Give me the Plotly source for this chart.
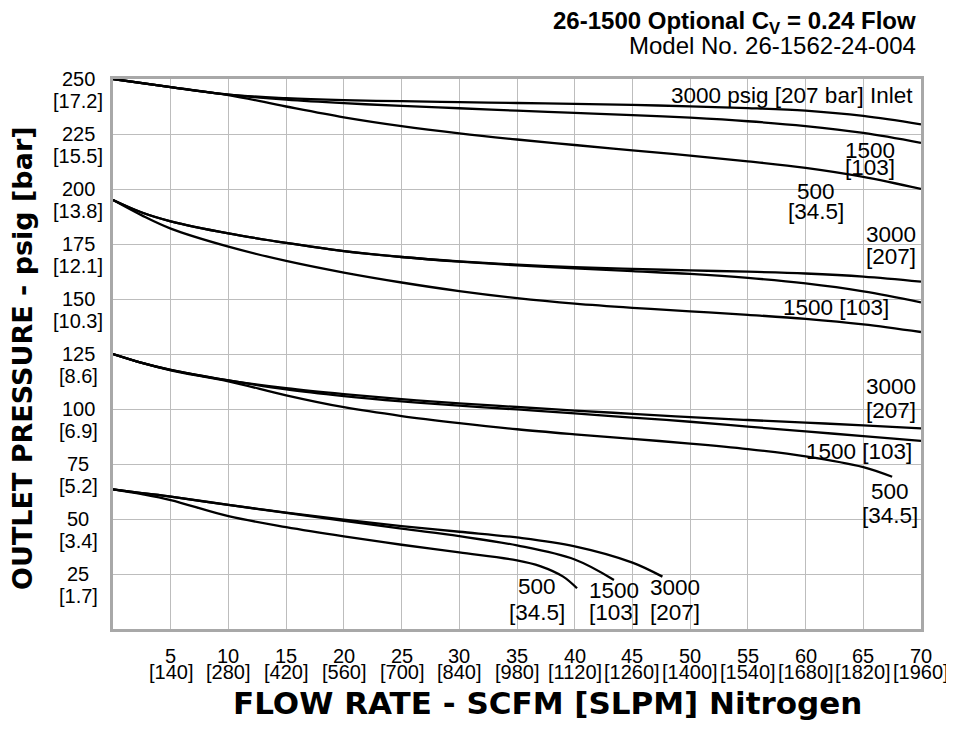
import plotly.graph_objects as go

# ---------------- data ----------------
# 250 psig set point
g1_flow = [0, 5, 10, 15, 20, 25, 30, 35, 40, 45, 50, 55, 60, 65, 70]
g1_3000 = [250, 246.3, 242.9, 241.3, 240.4, 239.9, 239.5, 239.1, 238.7, 238.2, 237.6, 236.8, 235.6, 233.2, 229.4]
g1_1500 = [250, 246.3, 242.9, 240.6, 239.0, 237.8, 236.7, 235.6, 234.6, 233.6, 232.4, 230.8, 228.6, 225.5, 221.0]
g1_500 = [250, 246.3, 242.7, 237.5, 232.6, 228.6, 225.3, 222.5, 220.0, 217.6, 215.2, 212.6, 209.6, 205.5, 200.0]

# 195 psig set point
g2_flow = [0, 2.5, 5, 10, 15, 20, 25, 30, 35, 40, 45, 50, 55, 60, 65, 70]
g2_3000 = [195, 189.3, 185.3, 179.8, 175.5, 171.8, 169.1, 167.1, 165.6, 164.5, 163.7, 163.0, 162.4, 161.6, 160.2, 157.9]
g2_1500 = [195, 189.3, 185.3, 179.8, 175.5, 171.8, 169.1, 167.0, 165.3, 163.9, 162.7, 161.4, 159.6, 157.1, 153.5, 148.5]
g2_500 = [195, 188.0, 182.0, 173.8, 167.3, 162.0, 157.5, 153.6, 150.4, 147.9, 146.0, 144.4, 142.8, 141.0, 138.5, 135.0]

# 125 psig set point
g3_flow = [0, 2.5, 5, 10, 15, 20, 25, 30, 35, 40, 45, 50, 55, 60, 65, 70]
g3_3000 = [125, 121.0, 117.8, 113.0, 109.5, 106.8, 104.5, 102.6, 100.9, 99.3, 97.8, 96.3, 95.0, 93.8, 92.6, 91.2]
g3_1500 = [125, 121.0, 117.8, 113.0, 108.9, 105.9, 103.5, 101.5, 99.8, 98.0, 96.1, 94.2, 92.0, 89.8, 87.7, 85.5]
g3_500_flow = [0, 2.5, 5, 10, 15, 20, 25, 30, 35, 40, 45, 50, 55, 60, 65, 67.5]
g3_500 = [125, 121.0, 117.6, 112.6, 106.2, 100.8, 96.8, 93.6, 90.8, 88.5, 86.4, 84.3, 81.8, 78.5, 73.6, 69.2]

# 63.5 psig set point
g4_3000_flow = [0, 2.5, 5, 10, 15, 20, 25, 30, 35, 40, 45, 47.6]
g4_3000 = [63.5, 61.8, 60.2, 56.4, 52.9, 49.7, 46.8, 44.2, 41.6, 37.6, 30.2, 23.8]
g4_1500_flow = [0, 2.5, 5, 10, 15, 20, 25, 30, 35, 40, 43.4]
g4_1500 = [63.5, 61.8, 60.2, 56.4, 52.8, 49.2, 45.6, 42.2, 38.0, 31.6, 22.3]
g4_500_flow = [0, 2.5, 5, 10, 15, 20, 25, 30, 35, 37, 39, 40.2]
g4_500 = [63.5, 61.3, 58.6, 51.3, 46.3, 42.1, 38.3, 34.8, 31.2, 28.6, 23.8, 18.5]

# ticks
x_tick_vals = [5, 10, 15, 20, 25, 30, 35, 40, 45, 50, 55, 60, 65, 70]
x_tick_slpm = ["[140]", "[280]", "[420]", "[560]", "[700]", "[840]", "[980]", "[1120]",
               "[1260]", "[1400]", "[1540]", "[1680]", "[1820]", "[1960]"]
y_tick_vals = [250, 225, 200, 175, 150, 125, 100, 75, 50, 25]
y_tick_bar = ["[17.2]", "[15.5]", "[13.8]", "[12.1]", "[10.3]", "[8.6]", "[6.9]", "[5.2]", "[3.4]", "[1.7]"]

# curve labels: (text, x data, y data, xanchor)
curve_labels = [
    ("3000 psig [207 bar] Inlet", 69.5, 242.7, "right"),
    ("1500", 65.6, 217.7, "center"), ("[103]", 65.6, 209.8, "center"),
    ("500", 60.9, 198.9, "center"), ("[34.5]", 60.9, 190.0, "center"),
    ("3000", 67.4, 179.1, "center"), ("[207]", 67.4, 169.1, "center"),
    ("1500 [103]", 62.6, 146.3, "center"),
    ("3000", 67.4, 110.2, "center"), ("[207]", 67.4, 99.5, "center"),
    ("1500 [103]", 64.6, 80.9, "center"),
    ("500", 67.3, 62.5, "center"), ("[34.5]", 67.3, 51.8, "center"),
    ("500", 36.7, 19.3, "center"), ("[34.5]", 36.7, 7.7, "center"),
    ("1500", 43.4, 17.5, "center"), ("[103]", 43.4, 7.3, "center"),
    ("3000", 48.7, 18.9, "center"), ("[207]", 48.7, 7.5, "center"),
]

FONT = "Liberation Sans, Arial, sans-serif"
HEAVY = "DejaVu Sans, Arial Black, sans-serif"

fig = go.Figure()
line = dict(color="black", width=2.3, shape="spline", smoothing=1.0)
series = [
    (g1_flow, g1_3000), (g1_flow, g1_1500), (g1_flow, g1_500),
    (g2_flow, g2_3000), (g2_flow, g2_1500), (g2_flow, g2_500),
    (g3_flow, g3_3000), (g3_flow, g3_1500), (g3_500_flow, g3_500),
    (g4_3000_flow, g4_3000), (g4_1500_flow, g4_1500), (g4_500_flow, g4_500),
]
for xs, ys in series:
    fig.add_trace(go.Scatter(x=xs, y=ys, mode="lines", line=line, showlegend=False, hoverinfo="skip"))

ann = []
for t, x, y, xa in curve_labels:
    ann.append(dict(text=t, x=x, y=y, xref="x", yref="y", xanchor=xa, yanchor="middle",
                    showarrow=False, font=dict(family=FONT, size=22.5, color="black")))

tick_font = dict(family=FONT, size=20, color="black")
# y tick labels (two lines)
for v, b in zip(y_tick_vals, y_tick_bar):
    ann.append(dict(text=str(v), x=-0.043, y=v, xref="paper", yref="y", xanchor="center",
                    yanchor="middle", showarrow=False, font=tick_font))
    ann.append(dict(text=b, x=-0.043, y=v, xref="paper", yref="y", xanchor="center",
                    yanchor="middle", yshift=-22, showarrow=False, font=tick_font))
# x tick labels
for v, b in zip(x_tick_vals, x_tick_slpm):
    ann.append(dict(text=str(v), x=v, y=0, xref="x", yref="y", xanchor="center",
                    yanchor="middle", yshift=-27, showarrow=False, font=tick_font))
    ann.append(dict(text=b, x=v, y=0, xref="x", yref="y", xanchor="center",
                    yanchor="middle", yshift=-43, showarrow=False, font=tick_font))
ann.append(dict(text="0", x=-1.98, y=0, xref="x", yref="y", xanchor="center", yanchor="middle",
                yshift=-27, showarrow=False, font=tick_font))

# axis titles
ann.append(dict(text="<b>FLOW RATE - SCFM [SLPM] Nitrogen</b>", x=(547 - 113) / 808, y=-(703 - 629) / 550,
                xref="paper", yref="paper", xanchor="center", yanchor="middle", showarrow=False,
                font=dict(family=HEAVY, size=31, color="black")))
ann.append(dict(text="<b>OUTLET PRESSURE - psig [bar]</b>", x=(22 - 113) / 808, y=(629 - 358) / 550,
                xref="paper", yref="paper", xanchor="center", yanchor="middle", textangle=-90,
                showarrow=False, font=dict(family=HEAVY, size=27, color="black")))
# titles
ann.append(dict(text="<b>26-1500 Optional C<sub>V</sub> = 0.24 Flow</b>", x=(918 - 113) / 808,
                y=(629 - 22) / 550, xref="paper", yref="paper", xanchor="right", yanchor="middle",
                showarrow=False, font=dict(family=FONT, size=24, color="black")))
ann.append(dict(text="Model No. 26-1562-24-004", x=(918 - 113) / 808, y=(629 - 46) / 550,
                xref="paper", yref="paper", xanchor="right", yanchor="middle",
                showarrow=False, font=dict(family=FONT, size=24, color="black")))

fig.update_layout(
    width=946, height=723,
    margin=dict(l=105, r=33, t=71, b=102),
    paper_bgcolor="white", plot_bgcolor="white",
    annotations=ann,
    xaxis=dict(range=[0, 70], dtick=5, tick0=0, showticklabels=False, showgrid=True,
               gridcolor="#bdbdbd", gridwidth=1.2, zeroline=False, showline=True, mirror=True,
               linecolor="#a8a8a8", linewidth=2.5, ticks=""),
    yaxis=dict(range=[0, 250], dtick=25, tick0=0, showticklabels=False, showgrid=True,
               gridcolor="#bdbdbd", gridwidth=1.2, zeroline=False, showline=True, mirror=True,
               linecolor="#a8a8a8", linewidth=2.5, ticks=""),
)

fig.write_html("out.html")
